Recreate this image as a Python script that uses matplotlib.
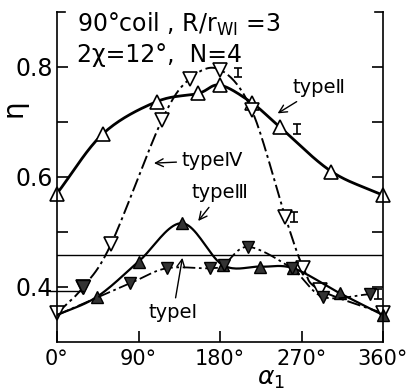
import numpy as np
import matplotlib.pyplot as plt

# data (alpha_1 in degrees, eta)
a_II = [0, 51, 110, 156, 180, 215, 246, 303, 360]
eta_II = [0.570, 0.679, 0.737, 0.752, 0.767, 0.735, 0.691, 0.610, 0.567]

a_IV = [0, 29, 60, 116, 147, 180, 215, 252, 272, 290, 360]
eta_IV = [0.352, 0.400, 0.479, 0.704, 0.779, 0.795, 0.722, 0.528, 0.435, 0.395, 0.352]

a_III = [0, 44, 90, 138, 183, 224, 261, 312, 360]
eta_III = [0.349, 0.382, 0.446, 0.516, 0.440, 0.437, 0.434, 0.389, 0.349]

a_I = [0, 81, 121, 169, 184, 211, 259, 294, 346]
eta_I = [0.349, 0.407, 0.434, 0.434, 0.440, 0.473, 0.434, 0.382, 0.387]

# scatter bars (x, y)
err_x = [200, 265, 262, 354]
err_y = [0.790, 0.688, 0.528, 0.388]

ref_level = 0.458


def smooth(x, y, n=20):
    # Catmull-Rom curve through the points, only for drawing the line
    x = np.asarray(x, float)
    y = np.asarray(y, float)
    px = np.r_[2*x[0]-x[1], x, 2*x[-1]-x[-2]]
    py = np.r_[2*y[0]-y[1], y, 2*y[-1]-y[-2]]
    xs, ys = [], []
    t = np.linspace(0, 1, n, endpoint=False)
    for i in range(1, len(px)-2):
        for p, out in ((px, xs), (py, ys)):
            p0, p1, p2, p3 = p[i-1], p[i], p[i+1], p[i+2]
            out.extend(0.5*((2*p1) + (-p0+p2)*t + (2*p0-5*p1+4*p2-p3)*t**2
                            + (-p0+3*p1-3*p2+p3)*t**3))
    xs.append(x[-1])
    ys.append(y[-1])
    return np.array(xs), np.array(ys)


fig = plt.figure(figsize=(4.08, 3.91), dpi=100)
ax = fig.add_axes([57/408, (391-342)/391, 326/408, 330/391])
ax.set_xlim(0, 360)
ax.set_ylim(0.3, 0.9)

dashdot = (0, (7, 2, 1.5, 2))

# type II
sx, sy = smooth(a_II, eta_II)
ax.plot(sx, sy, color='black', lw=2)
ax.plot(a_II, eta_II, ls='none', marker='^', ms=10, mfc='white', mec='black', mew=1.2, clip_on=False)

# type IV
sx, sy = smooth(a_IV, eta_IV)
ax.plot(sx, sy, color='black', lw=1.4, ls=dashdot)
ax.plot(a_IV, eta_IV, ls='none', marker='v', ms=10, mfc='white', mec='black', mew=1.2, clip_on=False)
ax.plot(a_IV[1], eta_IV[1], ls='none', marker='v', ms=10, mfc='#333333', mec='black')

# type III
sx, sy = smooth(a_III, eta_III)
ax.plot(sx, sy, color='black', lw=1.6)
ax.plot(a_III[1:], eta_III[1:], ls='none', marker='^', ms=9, mfc='#333333', mec='black', clip_on=False)

# type I
sx, sy = smooth(a_I, eta_I)
ax.plot(sx, sy, color='black', lw=1.3, ls=dashdot)
ax.plot(a_I[1:], eta_I[1:], ls='none', marker='v', ms=9, mfc='#333333', mec='black', clip_on=False)

ax.axhline(ref_level, color='black', lw=1)
ax.plot([-8, 29], [0.392, 0.392], color='black', lw=1, clip_on=False)

ax.errorbar(err_x, err_y, yerr=0.009, fmt='none', ecolor='black', elinewidth=1.2, capsize=3, capthick=1.2)

# labels with arrows
arr = dict(arrowstyle='->', color='black', lw=1)
lab = dict(fontsize=14, color='black')
ax.annotate('typeⅡ', xy=(241, 0.713), xytext=(260, 0.752), arrowprops=arr, **lab)
ax.annotate('typeⅣ', xy=(104, 0.625), xytext=(138, 0.630), arrowprops=arr, va='center', **lab)
ax.annotate('typeⅢ', xy=(154, 0.516), xytext=(149, 0.571), arrowprops=arr, va='center', **lab)
ax.annotate('typeⅠ', xy=(139, 0.458), xytext=(101, 0.353), arrowprops=arr, va='center', **lab)

ax.text(22, 0.864, r'90°coil , R/r$_{\rm WI}$ =3', fontsize=17)
ax.text(22, 0.809, '2χ=12°,  N=4', fontsize=17)

# frame: no top spine, short stubs at both top corners
ax.spines['top'].set_visible(False)
for s in ('left', 'right', 'bottom'):
    ax.spines[s].set_linewidth(1.2)
ax.plot([0, 0.025], [1, 1], transform=ax.transAxes, color='black', lw=1.2, clip_on=False)
ax.plot([0.975, 1], [1, 1], transform=ax.transAxes, color='black', lw=1.2, clip_on=False)

ax.set_xticks([0, 90, 180, 270, 360])
ax.set_xticklabels(['0°', '90°', '180°', '270°', '360°'], fontsize=15)
ax.set_yticks([0.4, 0.5, 0.6, 0.7, 0.8])
ax.set_yticklabels(['0.4', '', '0.6', '', '0.8'], fontsize=17)
ax.tick_params(direction='in', length=8, width=1.2, right=True, pad=3)
ax.tick_params(axis='x', pad=5)

ax.set_xlabel(r'$\alpha_1$', fontsize=18, va='center')
ax.xaxis.set_label_coords(0.655, -0.112)
ax.set_ylabel('η', fontsize=20)
ax.yaxis.set_label_coords(-0.09, 0.71)

plt.savefig('out.png', dpi=100)
